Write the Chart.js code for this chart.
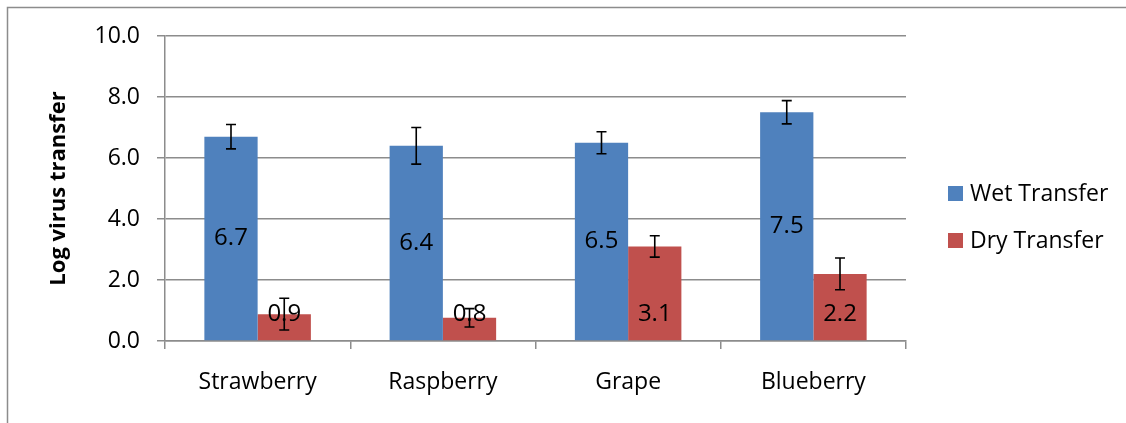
<!DOCTYPE html>
<html>
<head>
<meta charset="utf-8">
<script src="https://cdn.jsdelivr.net/npm/chart.js@4/dist/chart.umd.min.js"></script>
<style>
  html, body { margin: 0; padding: 0; background: #fff; }
  #wrap { width: 1126px; height: 423px; position: relative; }
</style>
</head>
<body>
<div id="wrap"><canvas id="virusChart" width="1126" height="423"></canvas></div>
<script>
const categories = ["Strawberry", "Raspberry", "Grape", "Blueberry"];
const wetTransfer = [6.7, 6.4, 6.5, 7.5];
const dryTransfer = [0.88, 0.76, 3.1, 2.2];
const wetLabels = ["6.7", "6.4", "6.5", "7.5"];
const dryLabels = ["0.9", "0.8", "3.1", "2.2"];
const wetError = [0.4, 0.6, 0.36, 0.38];
const dryError = [0.52, 0.3, 0.35, 0.52];

const FONT = "'Open Sans', sans-serif";

// error bars + value labels, drawn after the bars
const extras = {
  id: "extras",
  beforeDraw(chart) {
    const ctx = chart.ctx;
    ctx.save();
    ctx.strokeStyle = "#8c8c8c";
    ctx.lineWidth = 1.5;
    ctx.beginPath();
    ctx.moveTo(7.5, 423);
    ctx.lineTo(7.5, 7.5);
    ctx.lineTo(1126, 7.5);
    ctx.stroke();
    ctx.restore();
  },
  afterDatasetsDraw(chart) {
    const ctx = chart.ctx;
    const y = chart.scales.y;
    const errs = [wetError, dryError];
    const labels = [wetLabels, dryLabels];
    ctx.save();
    chart.data.datasets.forEach((ds, i) => {
      const meta = chart.getDatasetMeta(i);
      meta.data.forEach((bar, j) => {
        const v = ds.data[j];
        const top = y.getPixelForValue(v + errs[i][j]);
        const bot = y.getPixelForValue(v - errs[i][j]);
        ctx.strokeStyle = "#000";
        ctx.lineWidth = 1.6;
        ctx.beginPath();
        ctx.moveTo(bar.x, top); ctx.lineTo(bar.x, bot);
        ctx.moveTo(bar.x - 5, top); ctx.lineTo(bar.x + 5, top);
        ctx.moveTo(bar.x - 5, bot); ctx.lineTo(bar.x + 5, bot);
        ctx.stroke();

        ctx.fillStyle = "#000";
        ctx.font = "24px " + FONT;
        ctx.textAlign = "center";
        ctx.textBaseline = "middle";
        const ly = i === 0 ? (bar.y + bar.base) / 2 : y.getPixelForValue(0) - 27;
        ctx.fillText(labels[i][j], bar.x, ly);
      });
    });
    // legend
    const items = [["Wet Transfer", "#4F81BD", 194], ["Dry Transfer", "#C0504D", 241]];
    ctx.font = "23px " + FONT;
    ctx.textAlign = "left";
    items.forEach(([t, c, yy]) => {
      ctx.fillStyle = c;
      ctx.fillRect(948, yy - 8, 15, 15);
      ctx.fillStyle = "#000";
      ctx.fillText(t, 970, yy);
    });
    ctx.restore();
  }
};

new Chart(document.getElementById("virusChart"), {
  type: "bar",
  data: {
    labels: categories,
    datasets: [
      { label: "Wet Transfer", data: wetTransfer, backgroundColor: "#4F81BD" },
      { label: "Dry Transfer", data: dryTransfer, backgroundColor: "#C0504D" }
    ]
  },
  options: {
    responsive: false,
    animation: false,
    layout: { padding: { left: 0, right: 220, top: 36, bottom: 0 } },
    datasets: { bar: { categoryPercentage: 0.575, barPercentage: 1 } },
    plugins: { legend: { display: false }, tooltip: { enabled: false } },
    scales: {
      x: {
        afterFit: s => { s.height = 82; },
        grid: { offset: true, drawOnChartArea: false, color: "#8c8c8c", lineWidth: 1.5, tickLength: 8 },
        border: { color: "#8c8c8c", width: 1.5 },
        ticks: { color: "#000", font: { family: FONT, size: 23 }, padding: 20 }
      },
      y: {
        min: 0, max: 10,
        afterFit: s => { s.width = 165; },
        grid: { color: "#8c8c8c", lineWidth: 1.5, tickLength: 8 },
        border: { color: "#8c8c8c", width: 1.5 },
        ticks: {
          stepSize: 2, color: "#000", padding: 17,
          font: { family: FONT, size: 23 },
          callback: v => v.toFixed(1)
        },
        title: {
          display: true, text: "Log virus transfer", color: "#000",
          font: { family: FONT, size: 22, weight: "bold" },
          padding: { top: 46, bottom: 0 }
        }
      }
    }
  },
  plugins: [extras]
});
</script>
</body>
</html>
